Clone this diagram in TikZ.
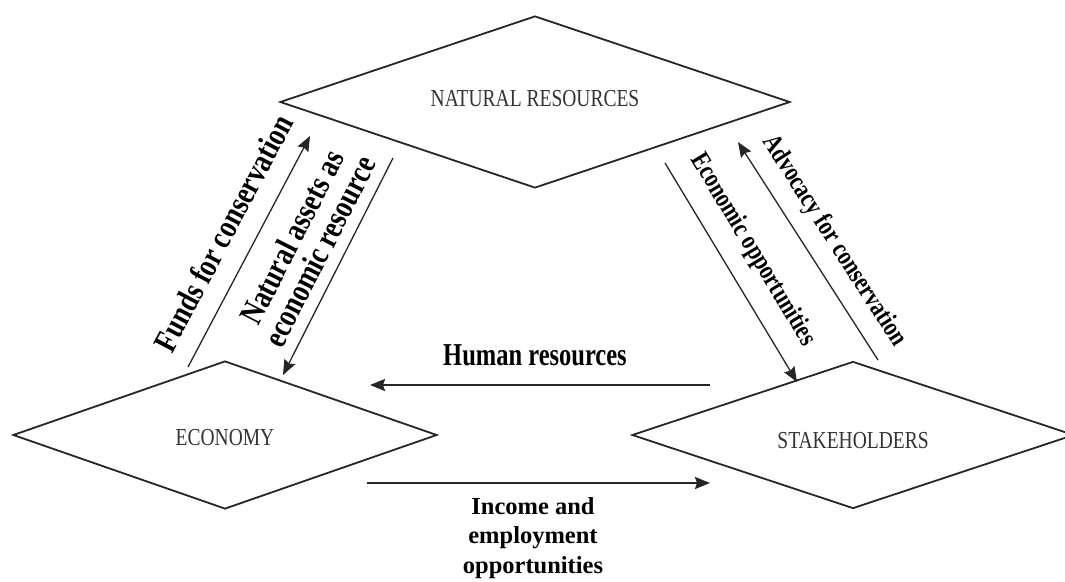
\documentclass[tikz,border=0pt]{standalone}
\usepackage{fontspec}
\setmainfont{Liberation Serif}
\usetikzlibrary{shapes.geometric,arrows.meta}
\newcommand{\tallbox}[1]{\scalebox{1}[1.25]{#1}}
\begin{document}
\begin{tikzpicture}[x=1pt,y=-1pt,
  region/.style={diamond, draw=black!85, line width=1.8pt, inner sep=0pt, shape aspect=1},
  regionlabel/.style={font=\fontsize{19.5}{22}\selectfont, text=black!80, inner sep=0pt},
  flow/.style={draw=black!85, line width=1.9pt, -{Stealth[length=15pt,width=12pt,inset=2pt]}},
  thinflow/.style={flow, line width=1.3pt},
  flowlabel/.style={font=\bfseries\fontsize{24.5}{29.5}\selectfont, inner sep=0pt, align=center},
  leftlabel/.style={font=\bfseries\fontsize{26.5}{22}\selectfont, inner sep=0pt, align=center},
  rightlabel/.style={font=\bfseries\fontsize{21.5}{24}\selectfont, inner sep=0pt, align=center}
]
\clip (0,0) rectangle (1065,581);
\fill[white] (0,0) rectangle (1065,581);

% the three sectors
\node[region, minimum width=510pt, minimum height=172pt] (nat) at (535,102) {};
\node[region, minimum width=424pt, minimum height=148pt] (econ) at (225,435) {};
\node[region, minimum width=442pt, minimum height=147pt] (stake) at (853,435) {};
\node[regionlabel] (natlbl) at (535,99) {\scalebox{1}[1.25]{NATURAL RESOURCES}};
\node[regionlabel] (econlbl) at (225,438) {\scalebox{1}[1.25]{ECONOMY}};
\node[regionlabel] (stakelbl) at (853,441) {\scalebox{1}[1.25]{STAKEHOLDERS}};

% economy <-> natural resources
\coordinate (fundsA) at (188,367);
\coordinate (fundsB) at (310,136);
\draw[thinflow] (fundsA) -- (fundsB);
\node[leftlabel, rotate=62.2] (fundslbl) at (223,233) {\tallbox{Funds for conservation}};

\coordinate (assetsA) at (393,158);
\coordinate (assetsB) at (283,375);
\draw[thinflow] (assetsA) -- (assetsB);
\node[leftlabel, rotate=63] (assetslbl) at (309,246)
  {\tallbox{\begin{tabular}{@{}c@{}}Natural assets as\\economic resource\end{tabular}}};

% natural resources <-> stakeholders
\coordinate (oppA) at (665,163);
\coordinate (oppB) at (797,382);
\draw[thinflow] (oppA) -- (oppB);
\node[rightlabel, rotate=-58.9] (opplbl) at (753,250) {\tallbox{Economic opportunities}};

\coordinate (advA) at (878,360);
\coordinate (advB) at (738,142);
\draw[thinflow] (advA) -- (advB);
\node[rightlabel, rotate=-57.3] (advlbl) at (834,241) {\tallbox{Advocacy for conservation}};

% stakeholders <-> economy
\coordinate (humA) at (710,385);
\coordinate (humB) at (370,385);
\draw[flow] (humA) -- (humB);
\node[flowlabel, anchor=base] (humlbl) at (535,365) {\scalebox{1}[1.3]{Human resources}};

\coordinate (incA) at (367,483);
\coordinate (incB) at (710,483);
\draw[flow] (incA) -- (incB);
\node[flowlabel, anchor=north] (inclbl) at (533,497) {Income and\\employment\\opportunities};
\end{tikzpicture}
\end{document}
